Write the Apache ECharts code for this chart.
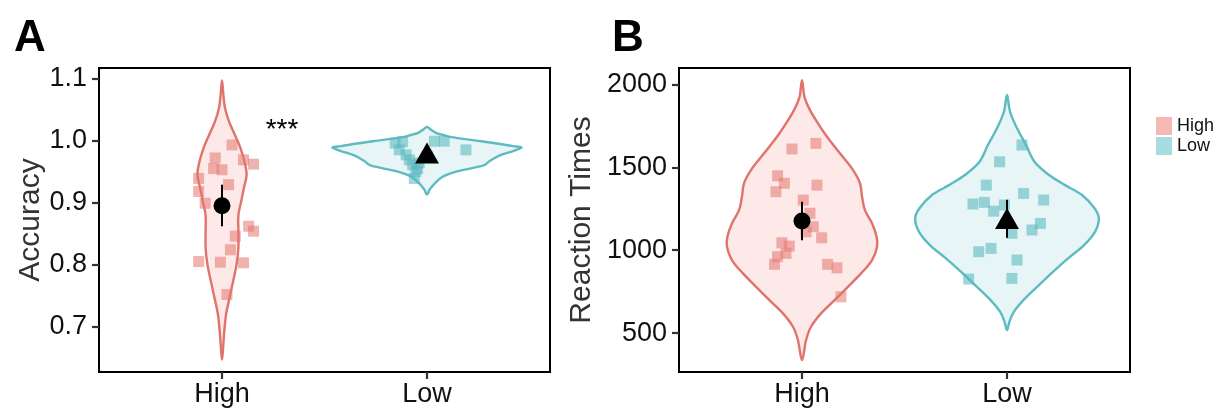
<!DOCTYPE html>
<html><head><meta charset="utf-8">
<script src="https://cdn.jsdelivr.net/npm/echarts@6/dist/echarts.min.js"></script>
<style>html,body{margin:0;padding:0;background:#fff}#c{width:1228px;height:413px}</style>
</head><body><div id="c"></div>
<script>
// ---------- categories / ticks ----------
const groups = ['High', 'Low'];
const accTicks = [0.7, 0.8, 0.9, 1.0, 1.1];
const rtTicks = [500, 1000, 1500, 2000];

// ---------- Panel A: Accuracy, individual points (jittered x, value) ----------
const accHighX = [1.049, 0.967, 1.105, 1.154, 1.000, 0.959, 0.886, 1.032, 0.886, 0.918, 1.130, 1.154, 1.065, 1.041, 0.886, 0.992, 1.105, 1.024];
const accHighY = [0.993, 0.972, 0.969, 0.962, 0.953, 0.955, 0.939, 0.929, 0.918, 0.899, 0.862, 0.854, 0.846, 0.824, 0.805, 0.804, 0.803, 0.752];
const accLowX = [1.845, 1.881, 1.865, 1.898, 1.914, 1.930, 1.954, 1.946, 1.938, 2.036, 2.084, 2.190, 2.003, 1.962];
const accLowY = [0.996, 0.998, 0.985, 0.977, 0.969, 0.961, 0.955, 0.950, 0.939, 0.999, 0.999, 0.985, 0.974, 0.964];
// means and CIs
const accMeans = [0.895, 0.980];
const accLo = [0.862, 0.973];
const accHi = [0.929, 0.987];
// violin outlines: value and half-width (x-axis units)
const accHighViolinY = [1.097, 1.073, 1.052, 1.031, 1.009, 0.988, 0.966, 0.945, 0.924, 0.901, 0.880, 0.853, 0.827, 0.800, 0.773, 0.747, 0.720, 0.688, 0.664, 0.647];
const accHighViolinW = [0, 0.007, 0.015, 0.034, 0.063, 0.090, 0.110, 0.120, 0.107, 0.093, 0.080, 0.080, 0.080, 0.071, 0.054, 0.037, 0.020, 0.010, 0.005, 0];
const accLowViolinY = [1.022, 1.017, 1.012, 1.009, 1.006, 0.999, 0.994, 0.991, 0.989, 0.986, 0.983, 0.976, 0.967, 0.961, 0.956, 0.950, 0.942, 0.931, 0.921, 0.913];
const accLowViolinW = [0, 0.021, 0.046, 0.078, 0.111, 0.264, 0.366, 0.420, 0.461, 0.444, 0.420, 0.355, 0.306, 0.282, 0.224, 0.142, 0.078, 0.038, 0.013, 0];

// ---------- Panel B: Reaction Times ----------
const rtHighX = [0.951, 1.068, 0.881, 0.914, 0.873, 1.073, 1.006, 1.039, 1.055, 1.020, 1.096, 0.902, 0.938, 0.922, 0.881, 0.866, 1.125, 1.171, 1.190];
const rtHighY = [1611, 1645, 1449, 1404, 1353, 1393, 1303, 1223, 1142, 1111, 1075, 1045, 1025, 981, 961, 915, 915, 894, 719];
const rtLowX = [2.073, 1.964, 1.899, 2.081, 2.179, 1.834, 1.890, 1.935, 1.987, 2.163, 2.122, 2.024, 1.862, 1.922, 2.049, 1.813, 2.024];
const rtLowY = [1635, 1534, 1393, 1343, 1303, 1279, 1289, 1236, 1273, 1162, 1122, 1102, 991, 1011, 941, 826, 830];
const rtMeans = [1176, 1192];
const rtLo = [1061, 1075];
const rtHi = [1293, 1305];
const rtHighViolinY = [2027, 1926, 1846, 1766, 1685, 1585, 1484, 1404, 1323, 1242, 1162, 1081, 1021, 941, 860, 779, 699, 619, 538, 458, 337];
const rtHighViolinW = [0, 0.012, 0.039, 0.078, 0.122, 0.185, 0.249, 0.283, 0.293, 0.307, 0.342, 0.364, 0.366, 0.342, 0.288, 0.224, 0.159, 0.093, 0.044, 0.020, 0];
const rtLowViolinY = [1937, 1836, 1736, 1635, 1534, 1454, 1393, 1333, 1253, 1192, 1111, 1031, 951, 870, 790, 709, 629, 568, 518];
const rtLowViolinW = [0, 0.015, 0.049, 0.093, 0.134, 0.205, 0.283, 0.366, 0.427, 0.448, 0.429, 0.376, 0.298, 0.224, 0.156, 0.088, 0.034, 0.012, 0];

// ---------- styles ----------
const FONT = '"Liberation Sans", Arial, Helvetica, sans-serif';
const HIGH_LINE = '#E0736B', LOW_LINE = '#5DBBC1';
const HIGH_FILL = 'rgba(240,125,118,0.17)', LOW_FILL = 'rgba(93,187,193,0.14)';
const HIGH_PT = 'rgba(228,118,112,0.55)', LOW_PT = 'rgba(88,184,191,0.58)';

function zip(xs, ys) { return xs.map((x, i) => [x, ys[i]]); }

function violin(ax, center, ys, ws, stroke, fill) {
  return {
    type: 'custom', xAxisIndex: ax, yAxisIndex: ax, silent: true, z: 1,
    data: [[center, ys[0]]],
    renderItem: (params, api) => {
      const pts = [];
      for (let i = 0; i < ys.length; i++) pts.push(api.coord([center + ws[i], ys[i]]));
      for (let i = ys.length - 2; i >= 1; i--) pts.push(api.coord([center - ws[i], ys[i]]));
      return { type: 'polygon', shape: { points: pts, smooth: 0.35 },
        style: { fill: fill, stroke: stroke, lineWidth: 2.4 } };
    }
  };
}
function errbars(ax, means, lo, hi) {
  return {
    type: 'custom', xAxisIndex: ax, yAxisIndex: ax, silent: true, z: 4,
    data: groups.map((g, i) => [i + 1, lo[i], hi[i]]),
    renderItem: (params, api) => {
      const a = api.coord([api.value(0), api.value(1)]);
      const b = api.coord([api.value(0), api.value(2)]);
      return { type: 'line', shape: { x1: a[0], y1: a[1], x2: b[0], y2: b[1] },
        style: { stroke: '#000', lineWidth: 2 } };
    }
  };
}
function pts(ax, name, xs, ys, color) {
  return { type: 'scatter', name: name, xAxisIndex: ax, yAxisIndex: ax, z: 3,
    symbol: 'rect', symbolSize: 11, data: zip(xs, ys), itemStyle: { color: color, opacity: 1 }, silent: true };
}
function meanPts(ax, means) {
  return [
    { type: 'scatter', xAxisIndex: ax, yAxisIndex: ax, z: 5, symbol: 'circle', symbolSize: 17,
      data: [[1, means[0]]], itemStyle: { color: '#000', opacity: 1 }, silent: true },
    { type: 'scatter', xAxisIndex: ax, yAxisIndex: ax, z: 5, symbol: 'triangle', symbolSize: [24, 21],
      data: [[2, means[1]]], itemStyle: { color: '#000', opacity: 1 }, silent: true }
  ];
}

function xAxis(gi) {
  return {
    gridIndex: gi, type: 'value', min: 0.4, max: 2.6,
    axisLine: { show: true, lineStyle: { color: '#000', width: 2 } },
    axisTick: { show: true, length: 7, customValues: [1, 2], lineStyle: { color: '#333', width: 2.2 } },
    axisLabel: { customValues: [1, 2], formatter: v => groups[Math.round(v) - 1], fontSize: 27,
      color: '#111', margin: 9, fontFamily: FONT },
    splitLine: { show: false }
  };
}
function yAxis(gi, min, max, ticks, fmt, name, gap) {
  return {
    gridIndex: gi, type: 'value', min: min, max: max,
    name: name, nameLocation: 'middle', nameGap: gap,
    nameTextStyle: { fontSize: 30, color: '#333', fontFamily: FONT },
    axisLine: { show: true, lineStyle: { color: '#000', width: 2 } },
    axisTick: { show: true, length: 7, customValues: ticks, lineStyle: { color: '#333', width: 2.2 } },
    axisLabel: { customValues: ticks, formatter: fmt, fontSize: 27, color: '#111', margin: 12, fontFamily: FONT },
    splitLine: { show: false }
  };
}

const chart = echarts.init(document.getElementById('c'), null, { renderer: 'canvas' });
chart.setOption({
  animation: false,
  backgroundColor: '#fff',
  textStyle: { fontFamily: FONT },
  grid: [
    { left: 99, top: 68, width: 451, height: 304, show: true, borderColor: '#000', borderWidth: 2, backgroundColor: 'transparent' },
    { left: 679, top: 68, width: 451, height: 304, show: true, borderColor: '#000', borderWidth: 2, backgroundColor: 'transparent' }
  ],
  xAxis: [xAxis(0), xAxis(1)],
  yAxis: [
    yAxis(0, 0.627, 1.117, accTicks, v => v.toFixed(1), 'Accuracy', 53),
    yAxis(1, 265, 2100, rtTicks, v => String(v), 'Reaction Times', 82)
  ],
  legend: {
    orient: 'vertical', left: 1156, top: 117, padding: 0, itemGap: 2,
    itemWidth: 16, itemHeight: 18, selectedMode: false,
    textStyle: { fontSize: 18, color: '#111', fontFamily: FONT, padding: [0, 0, 0, 0] },
    data: [
      { name: 'High', icon: 'rect', itemStyle: { color: '#F5B9B5', opacity: 1 } },
      { name: 'Low', icon: 'rect', itemStyle: { color: '#A7DCE0', opacity: 1 } }
    ]
  },
  graphic: [
    { type: 'text', left: 14, top: 17, style: { text: 'A', font: 'bold 44px ' + FONT, fill: '#000' } },
    { type: 'text', left: 612, top: 17, style: { text: 'B', font: 'bold 44px ' + FONT, fill: '#000' } },
    { type: 'text', x: 282, y: 130, style: { text: '***', font: '28px ' + FONT, fill: '#000', align: 'center', verticalAlign: 'middle' } }
  ],
  series: [
    violin(0, 1, accHighViolinY, accHighViolinW, HIGH_LINE, HIGH_FILL),
    violin(0, 2, accLowViolinY, accLowViolinW, LOW_LINE, LOW_FILL),
    pts(0, 'High', accHighX, accHighY, HIGH_PT),
    pts(0, 'Low', accLowX, accLowY, LOW_PT),
    errbars(0, accMeans, accLo, accHi),
    ...meanPts(0, accMeans),
    violin(1, 1, rtHighViolinY, rtHighViolinW, HIGH_LINE, HIGH_FILL),
    violin(1, 2, rtLowViolinY, rtLowViolinW, LOW_LINE, LOW_FILL),
    pts(1, 'High', rtHighX, rtHighY, HIGH_PT),
    pts(1, 'Low', rtLowX, rtLowY, LOW_PT),
    errbars(1, rtMeans, rtLo, rtHi),
    ...meanPts(1, rtMeans)
  ]
});
</script>
</body></html>
